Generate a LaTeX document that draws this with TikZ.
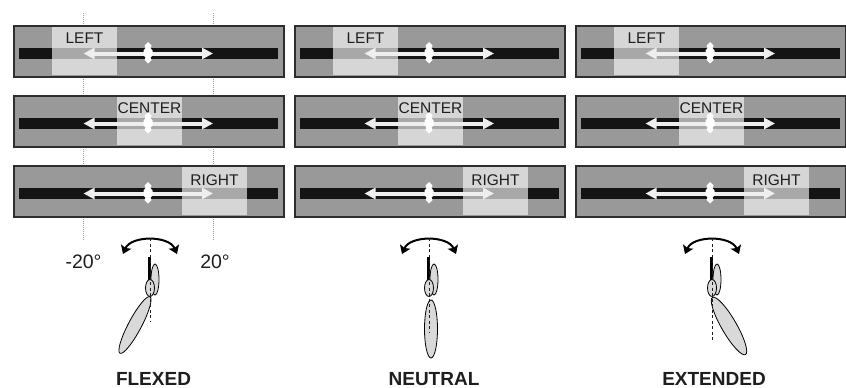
\documentclass[tikz,border=0pt]{standalone}
\usepackage{fontspec}
\setmainfont{Liberation Sans}
\usetikzlibrary{arrows.meta}

\definecolor{panelgray}{HTML}{999999}
\definecolor{lightzone}{HTML}{D6D6D6}
\definecolor{overlapgray}{HTML}{A8A8A8}
\definecolor{rail}{HTML}{141414}
\definecolor{frame}{HTML}{2E2E2E}
\definecolor{shaft}{HTML}{EEEEEE}
\definecolor{limb}{HTML}{D9D9D9}
\definecolor{guide}{HTML}{9A9A9A}
\definecolor{ink}{HTML}{1E1E1E}

\tikzset{
  panel/.style={fill=panelgray, draw=frame, line width=1.3pt},
  zonetext/.style={font=\fontsize{15.5}{16}\selectfont, text=ink, anchor=base, inner sep=0pt},
  angletext/.style={font=\fontsize{19.5}{20}\selectfont, text=ink, anchor=base, inner sep=0pt},
  captext/.style={font=\fontsize{19}{20}\selectfont\bfseries, text=ink, anchor=base, inner sep=0pt},
  travel/.style={draw=shaft, line width=4pt,
    {Triangle[length=11pt,width=11pt]}-{Triangle[length=11pt,width=11pt]}},
  guideline/.style={draw=guide, line width=0.8pt, dash pattern=on 1pt off 1pt},
  limbshape/.style={fill=limb, draw=black, line width=0.8pt},
  axisline/.style={draw=ink, line width=0.9pt, dash pattern=on 3pt off 2.5pt},
  swing/.style={draw=black, line width=2pt,
    {Stealth[length=8pt,width=11pt,inset=1.5pt]}-{Stealth[length=8pt,width=11pt,inset=1.5pt]}}
}

\begin{document}
\begin{tikzpicture}[x=1pt,y=-1pt]
\useasboundingbox (0,0) rectangle (846,388);

% the -20 / +20 degree guides, behind the first column of panels
\coordinate (gl-top) at (83,13);
\coordinate (gl-bot) at (83,240);
\coordinate (gr-top) at (213,13);
\coordinate (gr-bot) at (213,240);
\draw[guideline] (gl-top) -- (gl-bot);
\draw[guideline] (gr-top) -- (gr-bot);

% three columns of panels
\foreach \ox/\key in {0/a, 281/b, 562/c}{
  \foreach \row/\zone/\zname/\ly in {0/0/LEFT/17, 1/1/CENTER/17, 2/2/RIGHT/19}{
    \pgfmathsetmacro\rt{26+70*\row}
    \pgfmathsetmacro\zx{\ox+52+65*\zone}
    \draw[panel] (\ox+14,\rt) rectangle (\ox+284,\rt+51);
    \fill[rail] (\ox+19,\rt+22) rectangle (\ox+278,\rt+33);
    \fill[lightzone] (\zx,\rt+1) rectangle (\zx+65,\rt+49);
    \fill[overlapgray] (\zx,\rt+22) rectangle (\zx+65,\rt+33);
    \node[zonetext] (zone-\key-\row) at (\zx+32.5,\rt+\ly) {\zname};
    \coordinate (tl-\key-\row) at (\ox+83.5,\rt+27.5);
    \coordinate (tr-\key-\row) at (\ox+213,\rt+27.5);
    \draw[travel] (tl-\key-\row) -- (tr-\key-\row);
    % centre marker
    \fill[white, shift={(\ox+148,\rt+27)}]
      (0,-11) -- (2,-9) -- (3.5,-7.5) -- (2.5,-5) -- (4.5,-2.5) -- (4.5,2.5) -- (2.5,4.5)
      -- (3.5,7) -- (2,8.5) -- (0,10.5) -- (-2,8.5) -- (-3.5,7) -- (-2.5,4.5) -- (-4.5,2.5)
      -- (-4.5,-2.5) -- (-2.5,-5) -- (-3.5,-7.5) -- (-2,-9) -- cycle;
  }
}

% angle labels
\node[angletext] (neg20) at (83.5,268) {-20°};
\node[angletext] (pos20) at (215,268) {20°};

% limb sketches and captions
\foreach \ox/\ax/\capx/\capt/\cx/\cy/\tilt/\ra/\rb/\dend/\key in
  {0/150/153.5/FLEXED/-15/325/-28/6.5/32/322/a,
   281/429/434/NEUTRAL/2/329/0/6.5/29/332/b,
   562/712/714/EXTENDED/17/326/30/7.5/33/342/c}{
  \begin{scope}[shift={(\ax,0)}]
    \coordinate (sw-l-\key) at (-27,254);
    \coordinate (sw-r-\key) at (27,254);
    \draw[swing] (sw-l-\key) .. controls (-19,235.3) and (19,235.3) .. (sw-r-\key);
    \draw[limbshape, rotate around={\tilt:(\cx,\cy)}] (\cx,\cy) ellipse ({\ra} and {\rb});
    \draw[limbshape] (5,279.5) ellipse (4 and 15.5);
    \fill[black] (-2,257) rectangle (1,282);
    \draw[limbshape] (0,288) ellipse (4.5 and 8.5);
    \coordinate (ax-top-\key) at (0,238);
    \coordinate (ax-bot-\key) at (0,\dend);
    \draw[axisline] (ax-top-\key) -- (ax-bot-\key);
  \end{scope}
  \node[captext] (cap-\key) at (\capx,385) {\capt};
}
\end{tikzpicture}
\end{document}
